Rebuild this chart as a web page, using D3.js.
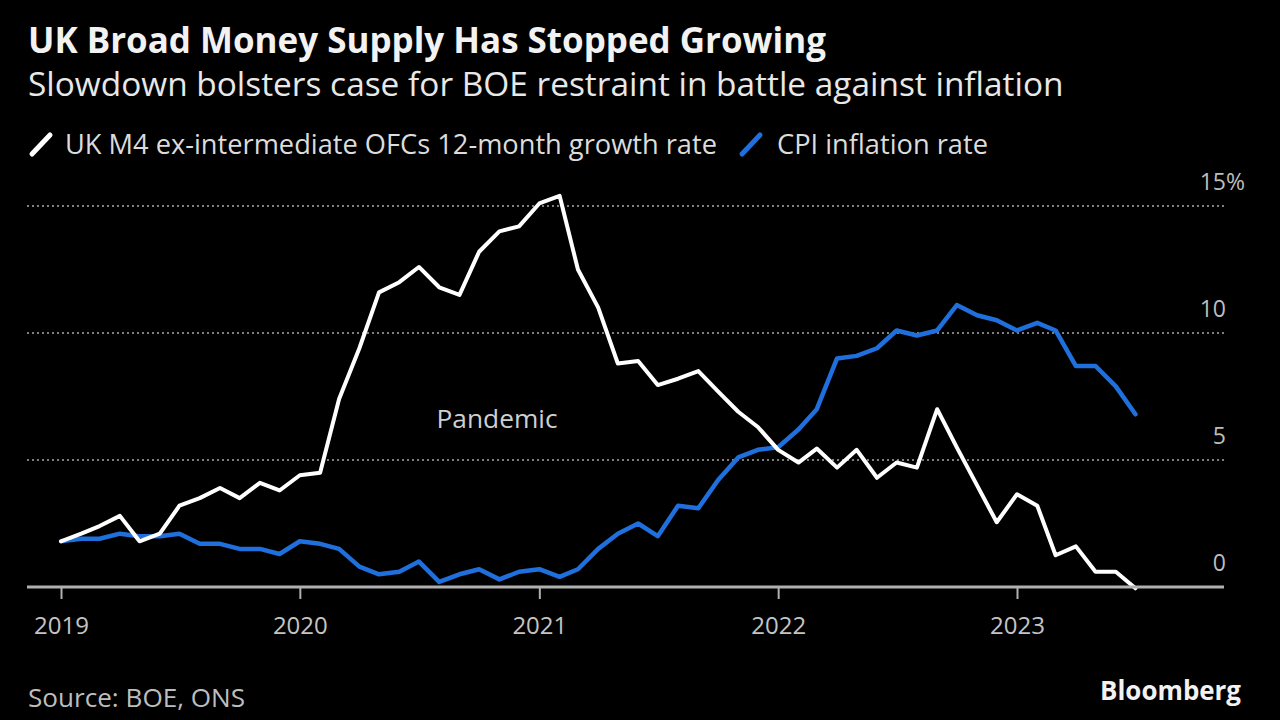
<!DOCTYPE html>
<html>
<head>
<meta charset="utf-8">
<script src="https://cdn.jsdelivr.net/npm/d3@7/dist/d3.min.js"></script>
<style>
  html, body { margin: 0; padding: 0; background: #000; }
  svg { display: block; }
  text { font-family: "Open Sans", "Noto Sans", sans-serif; }
</style>
</head>
<body>
<svg id="chart" width="1280" height="720"></svg>
<script>
// ---- Data (monthly, Jan 2019 – Jul 2023) ----
const startMonth = [2019, 0];
const m4Growth = [
  1.8, 2.1, 2.4, 2.8, 1.8, 2.1, 3.2, 3.5, 3.9, 3.5, 4.1, 3.8,
  4.4, 4.5, 7.4, 9.4, 11.6, 12.0, 12.6, 11.8, 11.5, 13.2, 14.0, 14.2,
  15.1, 15.4, 12.5, 11.0, 8.8, 8.9, 7.95, 8.2, 8.5, 7.7, 6.9, 6.3,
  5.4, 4.9, 5.45, 4.7, 5.4, 4.3, 4.9, 4.7, 7.0, 5.5, 4.0, 2.55,
  3.65, 3.2, 1.25, 1.6, 0.6, 0.6, -0.05
];
const cpiInflation = [
  1.8, 1.9, 1.9, 2.1, 2.0, 2.0, 2.1, 1.7, 1.7, 1.5, 1.5, 1.3,
  1.8, 1.7, 1.5, 0.8, 0.5, 0.6, 1.0, 0.2, 0.5, 0.7, 0.3, 0.6,
  0.7, 0.4, 0.7, 1.5, 2.1, 2.5, 2.0, 3.2, 3.1, 4.2, 5.1, 5.4,
  5.5, 6.2, 7.0, 9.0, 9.1, 9.4, 10.1, 9.9, 10.1, 11.1, 10.7, 10.5,
  10.1, 10.4, 10.1, 8.7, 8.7, 7.9, 6.8
];
const yTicks = [0, 5, 10, 15];
const xTickYears = [2019, 2020, 2021, 2022, 2023];
const seriesNames = ["UK M4 ex-intermediate OFCs 12-month growth rate", "CPI inflation rate"];
const titleText = "UK Broad Money Supply Has Stopped Growing";
const subtitleText = "Slowdown bolsters case for BOE restraint in battle against inflation";
const annotationText = "Pandemic";
const sourceText = "Source: BOE, ONS";

// ---- Setup ----
const svg = d3.select("#chart");
const WHITE = "#ffffff", BLUE = "#1f6fdc";
const dateOf = i => new Date(startMonth[0], startMonth[1] + i, 1);

const x = d3.scaleTime()
  .domain([new Date(2019, 0, 1), new Date(2023, 0, 1)])
  .range([61, 1017]);
const y = d3.scaleLinear().domain([0, 15]).range([587, 206]);
const gridX0 = 27, gridX1 = 1224;

// fit helper: scale font-size so text renders at the target width
function fit(sel, width) {
  const w = sel.node().getComputedTextLength();
  const fs = parseFloat(sel.attr("font-size"));
  sel.attr("font-size", (fs * width / w).toFixed(2));
  return sel;
}

// ---- Titles ----
fit(svg.append("text").attr("x", 28).attr("y", 53).attr("fill", "#f2f2f2")
  .attr("font-weight", 700).attr("font-size", 30).text(titleText), 798);
fit(svg.append("text").attr("x", 28).attr("y", 96).attr("fill", "#e8e8e8")
  .attr("font-size", 30).text(subtitleText), 1036);

// ---- Legend ----
const legend = [
  { name: seriesNames[0], color: WHITE, ix: 32, tx: 65, w: 652 },
  { name: seriesNames[1], color: BLUE, ix: 742, tx: 777, w: 211 }
];
legend.forEach(l => {
  svg.append("line").attr("x1", l.ix).attr("y1", 154).attr("x2", l.ix + 18).attr("y2", 135)
    .attr("stroke", l.color).attr("stroke-width", 5).attr("stroke-linecap", "round");
  fit(svg.append("text").attr("x", l.tx).attr("y", 154).attr("fill", "#dcdcdc")
    .attr("font-size", 24).text(l.name), l.w);
});

// ---- Grid ----
svg.append("g").selectAll("line").data(yTicks.filter(d => d !== 0)).join("line")
  .attr("x1", gridX0).attr("x2", gridX1)
  .attr("y1", d => y(d)).attr("y2", d => y(d))
  .attr("stroke", "#808080").attr("stroke-width", 2).attr("stroke-dasharray", "2,3");

// y labels
const yl = svg.append("g");
yTicks.forEach(d => {
  yl.append("text").attr("x", 1226).attr("y", y(d) - 16)
    .attr("text-anchor", "end").attr("fill", "#bdbdbd").attr("font-size", 23).text(d);
  if (d === 15) {
    yl.append("text").attr("x", 1226).attr("y", y(d) - 16)
      .attr("fill", "#bdbdbd").attr("font-size", 23).text("%");
  }
});

// ---- Lines ----
const line = d3.line().x((d, i) => x(dateOf(i))).y(d => y(d));
svg.append("path").datum(cpiInflation).attr("d", line)
  .attr("fill", "none").attr("stroke", BLUE).attr("stroke-width", 4.5)
  .attr("stroke-linejoin", "round").attr("stroke-linecap", "round");
svg.append("path").datum(m4Growth).attr("d", line)
  .attr("fill", "none").attr("stroke", WHITE).attr("stroke-width", 4)
  .attr("stroke-linejoin", "round").attr("stroke-linecap", "round");

// ---- X axis ----
svg.append("line").attr("x1", gridX0).attr("x2", gridX1).attr("y1", y(0)).attr("y2", y(0))
  .attr("stroke", "#b0b0b0").attr("stroke-width", 3);
const xAxis = d3.axisBottom(x)
  .tickValues(xTickYears.map(yr => new Date(yr, 0, 1)))
  .tickSize(12).tickPadding(28)
  .tickFormat(d3.timeFormat("%Y"));
const gx = svg.append("g").attr("transform", `translate(0,${y(0)})`).call(xAxis);
gx.select(".domain").remove();
gx.selectAll(".tick line").attr("stroke", "#b0b0b0").attr("stroke-width", 2);
gx.selectAll(".tick text").attr("fill", "#c4c4c4").attr("font-size", 24)
  .attr("font-family", '"Open Sans", sans-serif').attr("dy", "0.3em");

// ---- Annotation ----
fit(svg.append("text").attr("x", 497).attr("y", 428).attr("text-anchor", "middle")
  .attr("fill", "#cfcfcf").attr("font-size", 24).text(annotationText), 121);

// ---- Footer ----
fit(svg.append("text").attr("x", 28).attr("y", 707).attr("fill", "#bdbdbd")
  .attr("font-size", 24).text(sourceText), 217);
fit(svg.append("text").attr("x", 1241).attr("y", 700).attr("text-anchor", "end")
  .attr("fill", "#f2f2f2").attr("font-weight", 700).attr("font-size", 24).text("Bloomberg"), 141);
</script>
</body>
</html>
